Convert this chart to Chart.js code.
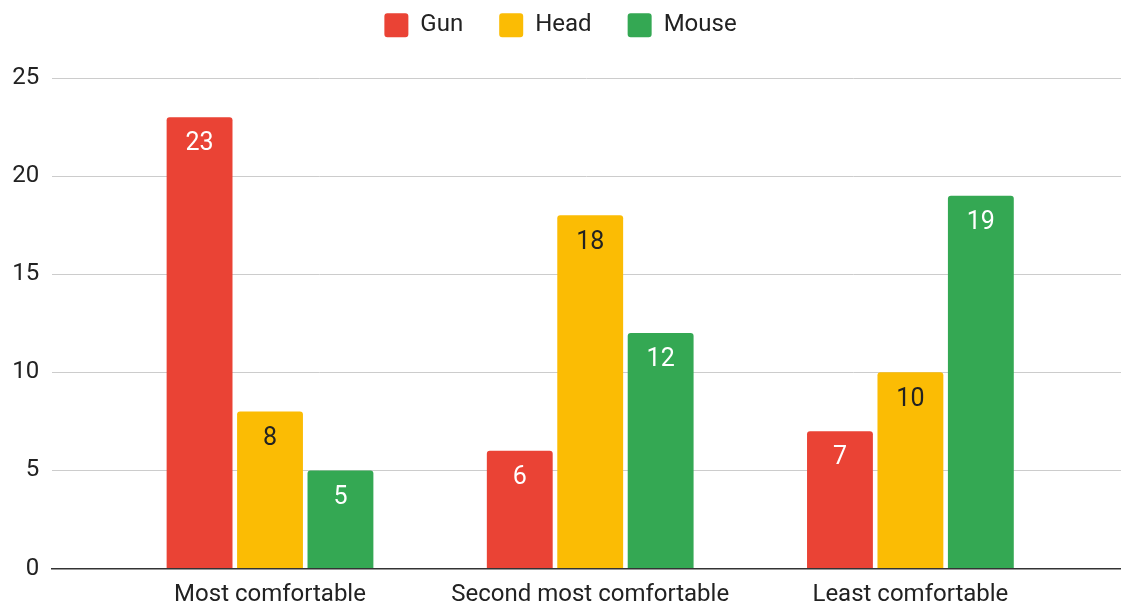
<!DOCTYPE html>
<html>
<head>
<meta charset="utf-8">
<script src="https://cdn.jsdelivr.net/npm/chart.js@4"></script>
<style>
  html, body { margin: 0; padding: 0; background: #fff; }
  #wrap { width: 1121px; height: 605px; }
</style>
</head>
<body>
<div id="wrap"><canvas id="chart1"></canvas></div>
<script>
// data
const categories = ['Most comfortable', 'Second most comfortable', 'Least comfortable'];
const seriesNames = ['Gun', 'Head', 'Mouse'];
const gunValues = [23, 6, 7];
const headValues = [8, 18, 10];
const mouseValues = [5, 12, 19];
const yTicks = [0, 5, 10, 15, 20, 25];

const barColors = ['#EA4335', '#FBBC04', '#34A853'];
const labelColors = ['#ffffff', '#222222', '#ffffff'];
const textColor = '#222222';
const fontFamily = 'Roboto, "Noto Sans", Arial, sans-serif';

// categories sit on a linear axis so the groups keep the same inset as the picture
function toPoints(values) {
  return values.map((v, i) => ({x: i, y: v}));
}

// value labels inside the top of every bar
const barLabels = {
  id: 'barLabels',
  afterDatasetsDraw(chart) {
    const ctx = chart.ctx;
    ctx.save();
    ctx.font = '25px ' + fontFamily;
    ctx.textAlign = 'center';
    ctx.textBaseline = 'middle';
    chart.data.datasets.forEach((ds, i) => {
      chart.getDatasetMeta(i).data.forEach((bar, j) => {
        ctx.fillStyle = labelColors[i];
        ctx.fillText(String(ds.data[j].y), bar.x, bar.y + 27);
      });
    });
    ctx.restore();
  }
};

// leave room under the legend like the original
const legendSpace = {
  id: 'legendSpace',
  beforeInit(chart) {
    const fit = chart.legend.fit;
    chart.legend.fit = function () {
      fit.call(this);
      this.height += 30.7;
    };
  }
};

const allValues = [gunValues, headValues, mouseValues];

new Chart('chart1', {
  type: 'bar',
  data: {
    datasets: seriesNames.map((name, i) => ({
      label: name,
      data: toPoints(allValues[i]),
      backgroundColor: barColors[i],
      borderWidth: 0,
      borderRadius: {topLeft: 3, topRight: 3, bottomLeft: 0, bottomRight: 0},
      borderSkipped: 'start',
      categoryPercentage: 0.66,
      barPercentage: 0.935
    }))
  },
  options: {
    responsive: true,
    maintainAspectRatio: false,
    animation: false,
    devicePixelRatio: 1,
    layout: {
      padding: {top: -22.7, left: 0, right: 0, bottom: 0}
    },
    plugins: {
      tooltip: {enabled: false},
      legend: {
        position: 'top',
        align: 'center',
        labels: {
          boxWidth: 24,
          boxHeight: 24,
          padding: 36,
          useBorderRadius: true,
          borderRadius: 3,
          color: textColor,
          font: {family: fontFamily, size: 24}
        }
      }
    },
    scales: {
      x: {
        type: 'linear',
        offset: false,
        min: -0.6818,
        max: 2.6577,
        afterBuildTicks(scale) {
          scale.ticks = categories.map((c, i) => ({value: i}));
        },
        afterFit(scale) {
          scale.height = 36.5;
        },
        ticks: {
          autoSkip: false,
          maxRotation: 0,
          padding: 12,
          color: textColor,
          font: {family: fontFamily, size: 24},
          callback: (value) => categories[value]
        },
        grid: {display: false, drawTicks: false},
        border: {display: true, color: '#333333', width: 1.5}
      },
      y: {
        min: 0,
        max: 25,
        afterBuildTicks(scale) {
          scale.ticks = yTicks.map(v => ({value: v}));
        },
        afterFit(scale) {
          scale.width = 51.7;
        },
        ticks: {
          padding: 12.4,
          color: textColor,
          font: {family: fontFamily, size: 24}
        },
        grid: {color: '#cccccc', lineWidth: 1, drawTicks: false},
        border: {display: false}
      }
    }
  },
  plugins: [legendSpace, barLabels]
});
</script>
</body>
</html>
